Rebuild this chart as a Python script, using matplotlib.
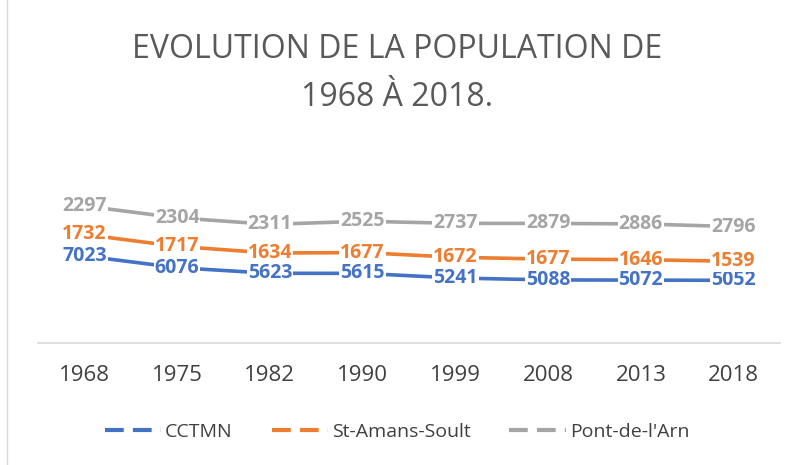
import matplotlib
matplotlib.use('Agg')
import matplotlib.pyplot as plt
from matplotlib.lines import Line2D
import numpy as np

years = ["1968", "1975", "1982", "1990", "1999", "2008", "2013", "2018"]
cctmn = [7023, 6076, 5623, 5615, 5241, 5088, 5072, 5052]
st_amans = [1732, 1717, 1634, 1677, 1672, 1677, 1646, 1539]
pont_arn = [2297, 2304, 2311, 2525, 2737, 2879, 2886, 2796]

series = [("CCTMN", cctmn, "#4472C4"),
          ("St-Amans-Soult", st_amans, "#ED7D31"),
          ("Pont-de-l'Arn", pont_arn, "#A5A5A5")]

plt.rcParams['font.family'] = ['Open Sans', 'DejaVu Sans']

W, H = 794, 465
fig = plt.figure(figsize=(W / 100, H / 100), dpi=100)
# plot area: x 38..780 px, zero line at y=343 px
ymax = 17000
px_per_unit = 0.0124
top_px = 343 - ymax * px_per_unit
ax = fig.add_axes([38 / W, (H - 343) / H, (780 - 38) / W, (343 - top_px) / H])

x = np.arange(len(years))
cum = np.zeros(len(years))
for name, vals, color in series:
    vals = np.array(vals, dtype=float)
    cum = cum + vals  # stacked line chart
    ax.plot(x, cum, color=color, linewidth=2.6, solid_capstyle='round', zorder=2)
    for xi, yi, v in zip(x, cum, vals):
        ax.text(xi, yi, f"{int(v)}", ha="center", va="center", fontsize=14,
                fontweight="bold", color=color, zorder=3,
                bbox=dict(boxstyle="square,pad=0.05", fc="white", ec="none"))

ax.set_xlim(-0.5, len(years) - 0.5)
ax.set_ylim(0, ymax)
ax.set_xticks(x)
ax.set_xticklabels(years, fontsize=16, color="#404040")
ax.tick_params(axis="x", length=0, pad=16)
ax.set_yticks([])
for s in ["top", "right", "left"]:
    ax.spines[s].set_visible(False)
ax.spines["bottom"].set_color("#D9D9D9")
ax.spines["bottom"].set_linewidth(1.2)

fig.text(0.5, 1 - 50 / H, "EVOLUTION DE LA POPULATION DE", ha="center", va="center",
         fontsize=23, color="#595959")
fig.text(0.5, 1 - 97 / H, "1968 À 2018.", ha="center", va="center",
         fontsize=23, color="#595959")

handles = [Line2D([0], [0], color=c, linewidth=3, linestyle=(0, (4.5, 2.2)))
           for _, _, c in series]
fig.legend(handles, [n for n, _, _ in series], loc="center",
           bbox_to_anchor=(0.5, 1 - 432 / H), ncol=3, frameon=False,
           fontsize=14, handlelength=2.9, columnspacing=2.0, handletextpad=0.2,
           labelcolor="#404040")

# left frame edge of the chart area
fig.add_artist(Line2D([7 / W, 7 / W], [0, 1], color="#D9D9D9", linewidth=1))

fig.savefig("out.png", dpi=100, facecolor="white")
